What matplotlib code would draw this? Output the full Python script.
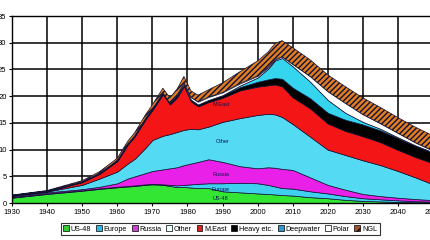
import numpy as np
import matplotlib
matplotlib.use("Agg")
import matplotlib.pyplot as plt
from matplotlib.patches import Patch

years = [1930, 1940, 1950, 1955, 1960, 1963, 1965, 1968, 1970, 1973, 1975, 1977, 1979, 1981,
         1983, 1986, 1990, 1995, 2000, 2003, 2005, 2007, 2010, 2015, 2020, 2025, 2030, 2035,
         2040, 2045, 2050]

us48 = [1.0, 1.7, 2.3, 2.65, 2.95, 3.1, 3.2, 3.4, 3.5, 3.4, 3.2, 3.0, 3.0, 2.9, 2.8, 2.8, 2.2,
        2.0, 1.8, 1.7, 1.6, 1.5, 1.4, 1.1, 0.9, 0.6, 0.4, 0.3, 0.2, 0.15, 0.1]
europe = [0.05, 0.1, 0.1, 0.1, 0.1, 0.1, 0.1, 0.1, 0.1, 0.1, 0.2, 0.3, 0.4, 0.6, 0.8, 0.9, 1.5,
          1.8, 1.9, 1.7, 1.5, 1.3, 1.3, 1.1, 0.9, 0.7, 0.5, 0.4, 0.3, 0.2, 0.15]
russia = [0.15, 0.2, 0.2, 0.3, 0.65, 1.4, 1.7, 2.1, 2.4, 2.8, 3.1, 3.4, 3.7, 3.9, 4.1, 4.5, 4.0,
          3.1, 2.8, 3.3, 3.5, 3.6, 3.5, 2.6, 1.6, 1.2, 0.8, 0.6, 0.5, 0.4, 0.3]
other = [0.15, 0.15, 0.8, 1.55, 2.2, 2.8, 3.3, 4.7, 5.8, 6.3, 6.4, 6.6, 6.6, 6.5, 6.1, 6.1, 7.5,
         9.0, 10.0, 10.0, 10.0, 9.7, 8.6, 7.6, 6.6, 6.5, 6.3, 5.8, 5.0, 4.05, 2.95]
meast = [0.05, 0.05, 0.5, 0.9, 1.95, 3.55, 4.2, 5.3, 5.6, 7.75, 5.55, 6.45, 8.15, 5.15, 4.3, 4.6,
         4.5, 5.2, 5.3, 5.35, 5.6, 5.75, 5.0, 5.3, 4.9, 4.5, 4.5, 4.3, 3.95, 3.8, 3.95]
heavy = [0.05, 0.05, 0.1, 0.1, 0.15, 0.15, 0.15, 0.2, 0.2, 0.25, 0.25, 0.3, 0.3, 0.3, 0.35, 0.4,
         0.45, 0.6, 0.9, 1.1, 1.2, 1.4, 1.8, 1.9, 2.0, 2.1, 2.2, 2.2, 2.2, 2.1, 2.0]
deepwater = [0, 0, 0, 0, 0, 0, 0, 0, 0, 0, 0, 0, 0, 0, 0, 0, 0.05, 0.3, 0.8, 2.0, 3.3, 3.9, 4.0,
             3.1, 2.4, 1.3, 0.5, 0.3, 0.15, 0.1, 0.05]
polar = [0, 0, 0, 0, 0, 0, 0, 0, 0, 0, 0, 0.15, 0.35, 0.45, 0.5, 0.55, 0.5, 0.4, 0.3, 0.25, 0.2,
         0.25, 0.4, 1.0, 1.6, 1.8, 1.4, 1.0, 0.8, 0.5, 0.3]
ngl = [0.05, 0.1, 0.2, 0.3, 0.4, 0.5, 0.55, 0.7, 0.8, 0.9, 1.0, 1.1, 1.2, 1.2, 1.25, 1.35, 1.8,
       2.2, 2.8, 2.9, 3.0, 3.0, 3.1, 3.1, 3.1, 3.1, 3.1, 3.0, 2.9, 2.9, 2.8]

names = ["US-48", "Europe", "Russia", "Other", "M.East", "Heavy etc.", "Deepwater", "Polar", "NGL"]
series = [us48, europe, russia, other, meast, heavy, deepwater, polar, ngl]
colors = ["#33e633", "#3fd0ef", "#e820e8", "#55daf3", "#f41616", "#000000", "#35d5f0",
          "#ffffff", "#e07d22"]
hatches = [None, None, None, None, None, None, None, None, "//////"]
legend_colors = ["#33cc33", "#33bbdd", "#cc44cc", "#eeffff", "#dd2222", "#000000", "#3399cc",
                 "#ffffff", "#a0522d"]

xticks = [1930, 1940, 1950, 1960, 1970, 1980, 1990, 2000, 2010, 2020, 2030, 2040, 2050]
yticks = [0, 5, 10, 15, 20, 25, 30, 35]

plt.rcParams["hatch.color"] = "#1a0a00"
plt.rcParams["hatch.linewidth"] = 1.0
plt.rcParams["font.family"] = ["Liberation Sans", "DejaVu Sans"]

fig = plt.figure(figsize=(4.3, 2.4), dpi=100)
ax = fig.add_axes([0.028, 0.154, 0.979, 0.779])

x = np.array(years, dtype=float)
base = np.zeros(len(years))
for vals, col, h in zip(series, colors, hatches):
    top = base + np.array(vals, dtype=float)
    ax.fill_between(x, base, top, facecolor=col, edgecolor="#111133", linewidth=0.5,
                    hatch=h, zorder=2)
    base = top

ax.set_xlim(1930, 2050)
ax.set_ylim(0, 35)
ax.set_xticks(xticks)
ax.set_yticks(yticks)
ax.grid(True, color="black", linewidth=1.1, zorder=1)
ax.set_axisbelow(True)
ax.tick_params(labelsize=5.5, length=2, width=0.8, pad=2)
for s in ax.spines.values():
    s.set_linewidth(1.0)
    s.set_color("black")

txt = dict(fontsize=4, color="#101050", ha="center", va="center", zorder=5)
ax.text(1989.5, 18.4, "M.East", **txt)
ax.text(1990, 11.5, "Other", **txt)
ax.text(1989.5, 5.4, "Russia", **txt)
ax.text(1989.5, 2.6, "Europe", **txt)
ax.text(1989.5, 0.9, "US-48", **txt)

handles = [Patch(facecolor=c, edgecolor="black", linewidth=0.5, label=n,
                 hatch=("///" if n == "NGL" else None))
           for n, c in zip(names, legend_colors)]
leg = fig.legend(handles=handles, loc="center", bbox_to_anchor=(0.512, 0.046), ncol=9,
                 fontsize=5.2, frameon=True, fancybox=False, handlelength=0.8,
                 handleheight=0.8, handletextpad=0.25, columnspacing=0.65,
                 borderpad=0.35, borderaxespad=0)
leg.get_frame().set_edgecolor("black")
leg.get_frame().set_linewidth(0.8)

fig.savefig("out.png", dpi=100)
